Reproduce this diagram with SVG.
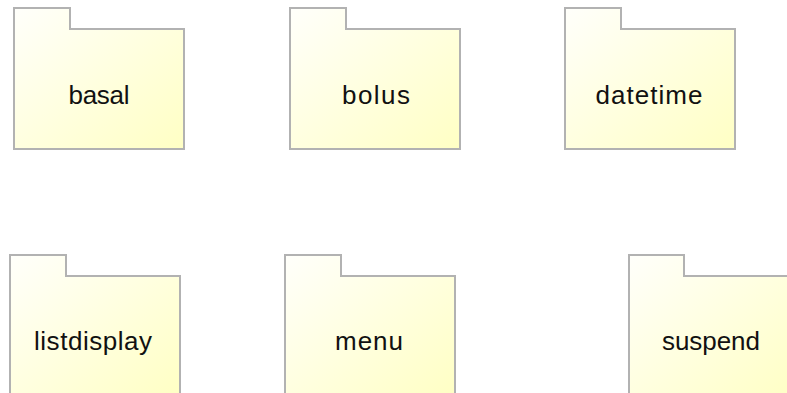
<svg xmlns="http://www.w3.org/2000/svg" width="787" height="393" viewBox="0 0 787 393">
  <defs>
    <linearGradient id="pkgFill" x1="0" y1="0" x2="1" y2="1">
      <stop offset="0" stop-color="#fffffb"/>
      <stop offset="1" stop-color="#ffffc4"/>
    </linearGradient>
  </defs>
  <style>
    .pkg { fill: url(#pkgFill); stroke: #b2b2b2; stroke-width: 2; }
    .lbl { font-family: "Liberation Sans", Arial, sans-serif; font-size: 26px; fill: #111; text-anchor: middle; }
  </style>
  <rect width="787" height="393" fill="#ffffff"/>
  <g id="basal">
    <path class="pkg" d="M14,8 H70 V29 H184 V149 H14 Z"/>
    <text class="lbl" x="99" y="104" textLength="61" lengthAdjust="spacing">basal</text>
  </g>
  <g id="bolus">
    <path class="pkg" d="M290,8 H346 V29 H460 V149 H290 Z"/>
    <text class="lbl" x="376" y="104" textLength="68" lengthAdjust="spacing">bolus</text>
  </g>
  <g id="datetime">
    <path class="pkg" d="M565,8 H621 V29 H735 V149 H565 Z"/>
    <text class="lbl" x="649" y="104" textLength="107" lengthAdjust="spacing">datetime</text>
  </g>
  <g id="listdisplay">
    <path class="pkg" d="M10,255 H66 V276 H180 V396 H10 Z"/>
    <text class="lbl" x="93" y="350" textLength="118" lengthAdjust="spacing">listdisplay</text>
  </g>
  <g id="menu">
    <path class="pkg" d="M285,255 H341 V276 H455 V396 H285 Z"/>
    <text class="lbl" x="369" y="350" textLength="68" lengthAdjust="spacing">menu</text>
  </g>
  <g id="suspend">
    <path class="pkg" d="M629,255 H684 V276 H799 V396 H629 Z"/>
    <text class="lbl" x="711" y="350" textLength="98" lengthAdjust="spacing">suspend</text>
  </g>
  <g id="connectors"/>
</svg>
